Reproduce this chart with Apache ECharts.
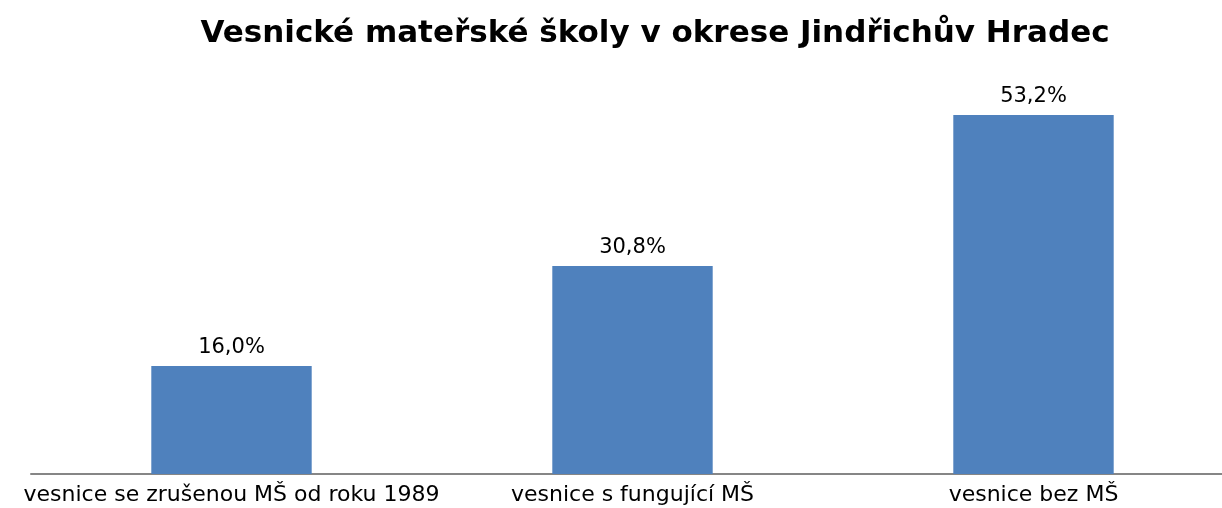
<!DOCTYPE html>
<html><head><meta charset="utf-8">
<script src="https://cdn.jsdelivr.net/npm/echarts@6/dist/echarts.min.js"></script>
<style>html,body{margin:0;padding:0;background:#fff}#c{width:1222px;height:508px}</style>
</head><body><div id="c"></div>
<script>
const title = 'Vesnické mateřské školy v okrese Jindřichův Hradec';
const categories = ['vesnice se zrušenou MŠ od roku 1989', 'vesnice s fungující MŠ', 'vesnice bez MŠ'];
const values = [16.0, 30.8, 53.2];

const chart = echarts.init(document.getElementById('c'), null, {renderer: 'canvas'});
chart.setOption({
  animation: false,
  backgroundColor: '#fff',
  title: {
    text: title, left: 650, top: 13, textAlign: 'center',
    textStyle: {fontFamily: 'DejaVu Sans', fontWeight: 'bold', fontSize: 31, color: '#000'}
  },
  grid: {left: 31, width: 1203, top: 69, height: 405, outerBoundsMode: 'none', containLabel: false},
  xAxis: {
    type: 'category', data: categories,
    axisLine: {lineStyle: {color: '#868686', width: 2}},
    axisTick: {show: false},
    axisLabel: {fontFamily: 'DejaVu Sans', fontSize: 22, color: '#000', margin: 10, interval: 0}
  },
  yAxis: {type: 'value', min: 0, max: 60, show: false, splitLine: {show: false}},
  series: [{
    type: 'bar', data: values, barWidth: '40%',
    itemStyle: {color: '#4F81BD'},
    label: {
      show: true, position: 'top', distance: 8,
      fontFamily: 'DejaVu Sans', fontSize: 21, color: '#000',
      formatter: p => p.value.toFixed(1).replace('.', ',') + '%'
    }
  }]
});
</script></body></html>
